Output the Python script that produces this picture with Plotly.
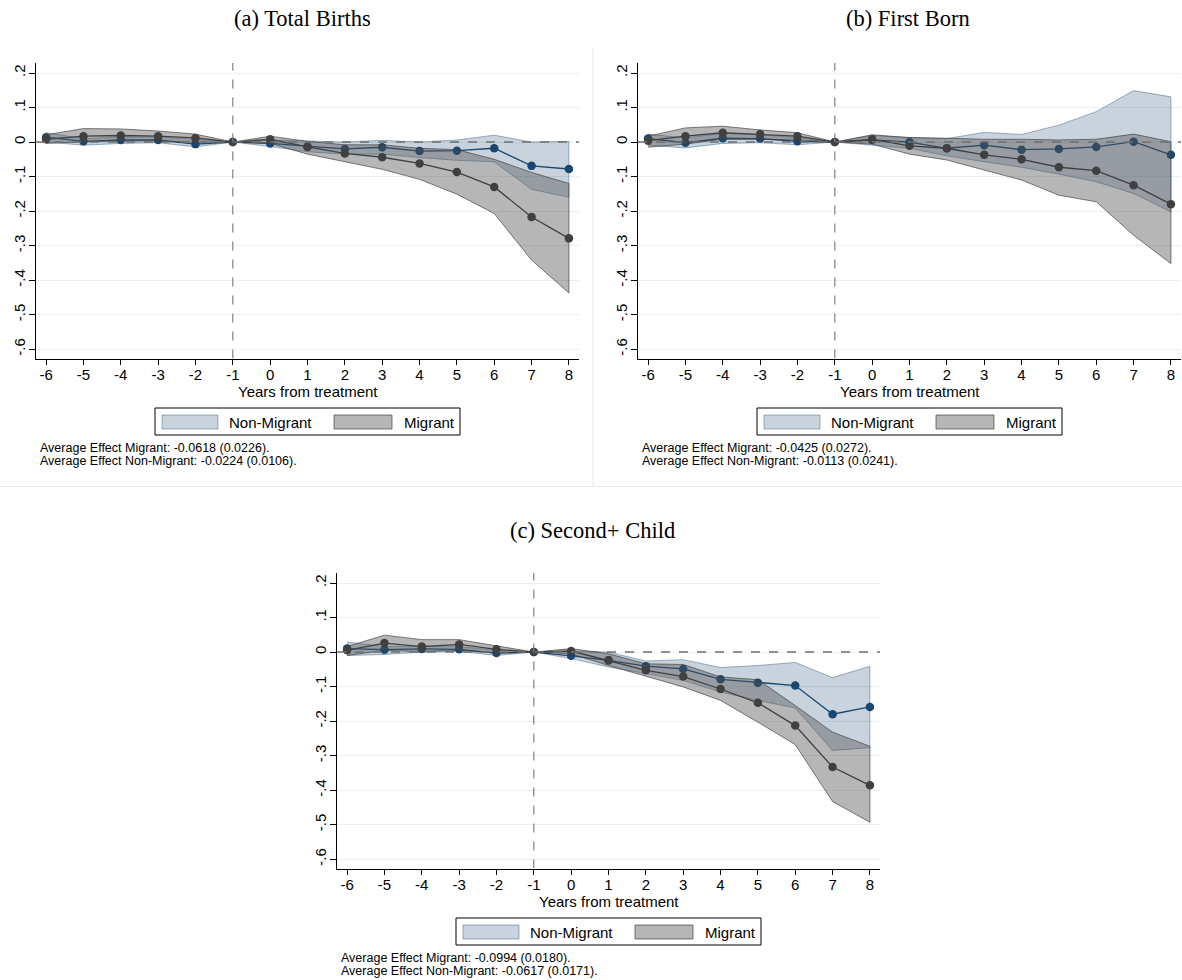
import plotly.graph_objects as go

# ---------------- data ----------------
years = [-6, -5, -4, -3, -2, -1, 0, 1, 2, 3, 4, 5, 6, 7, 8]

mig_a    = [0.008, 0.017, 0.019, 0.017, 0.012, 0, 0.008, -0.014, -0.033, -0.044, -0.062, -0.087, -0.130, -0.217, -0.279]
mig_a_hi = [0.021, 0.039, 0.038, 0.032, 0.023, 0, 0.017, 0.002, -0.008, -0.008, -0.018, -0.022, -0.050, -0.088, -0.120]
mig_a_lo = [-0.004, 0.001, 0.003, 0.003, 0.000, 0, -0.004, -0.035, -0.057, -0.079, -0.108, -0.151, -0.207, -0.342, -0.437]
non_a    = [0.014, 0.002, 0.006, 0.006, -0.006, 0, -0.004, -0.013, -0.020, -0.015, -0.026, -0.025, -0.018, -0.069, -0.078]
non_a_hi = [0.027, 0.010, 0.015, 0.015, 0.008, 0, 0.006, 0.002, 0.000, 0.005, 0.000, 0.006, 0.020, 0.000, 0.002]
non_a_lo = [0.000, -0.009, -0.004, -0.002, -0.014, 0, -0.013, -0.028, -0.035, -0.035, -0.045, -0.053, -0.057, -0.137, -0.160]

mig_b    = [0.004, 0.017, 0.027, 0.023, 0.017, 0, 0.008, -0.011, -0.018, -0.037, -0.050, -0.073, -0.083, -0.125, -0.180]
mig_b_hi = [0.017, 0.041, 0.046, 0.035, 0.027, 0, 0.021, 0.013, 0.011, 0.008, 0.008, 0.006, 0.008, 0.023, 0.001]
mig_b_lo = [-0.015, -0.006, 0.008, 0.008, 0.006, 0, -0.006, -0.035, -0.052, -0.081, -0.110, -0.154, -0.173, -0.270, -0.352]
non_b    = [0.010, -0.002, 0.011, 0.010, 0.002, 0, 0.006, 0.000, -0.018, -0.009, -0.022, -0.020, -0.014, 0.001, -0.037]
non_b_hi = [0.023, 0.012, 0.025, 0.021, 0.013, 0, 0.019, 0.013, 0.010, 0.028, 0.022, 0.049, 0.088, 0.149, 0.131]
non_b_lo = [-0.009, -0.017, -0.004, -0.002, -0.008, 0, -0.010, -0.018, -0.040, -0.057, -0.073, -0.093, -0.115, -0.149, -0.202]

mig_c    = [0.005, 0.026, 0.016, 0.022, 0.008, 0, 0.003, -0.024, -0.053, -0.071, -0.107, -0.147, -0.213, -0.333, -0.386]
mig_c_hi = [0.016, 0.049, 0.036, 0.036, 0.018, 0, 0.010, -0.005, -0.034, -0.036, -0.072, -0.080, -0.155, -0.232, -0.273]
mig_c_lo = [-0.010, 0.005, 0.001, 0.005, -0.003, 0, -0.005, -0.039, -0.070, -0.101, -0.140, -0.203, -0.268, -0.433, -0.493]
non_c    = [0.010, 0.007, 0.009, 0.008, -0.003, 0, -0.011, -0.024, -0.041, -0.049, -0.079, -0.089, -0.097, -0.180, -0.159]
non_c_hi = [0.029, 0.016, 0.018, 0.016, 0.005, 0, 0.003, 0.000, -0.026, -0.022, -0.045, -0.039, -0.030, -0.074, -0.041]
non_c_lo = [-0.010, -0.007, 0.000, 0.002, -0.010, 0, -0.019, -0.043, -0.063, -0.082, -0.116, -0.140, -0.162, -0.285, -0.277]

panel_titles = ["(a) Total Births", "(b) First Born", "(c) Second+ Child"]
footnotes = [
    ["Average Effect Migrant: -0.0618 (0.0226).", "Average Effect Non-Migrant: -0.0224 (0.0106)."],
    ["Average Effect Migrant: -0.0425 (0.0272).", "Average Effect Non-Migrant: -0.0113 (0.0241)."],
    ["Average Effect Migrant: -0.0994 (0.0180).", "Average Effect Non-Migrant: -0.0617 (0.0171)."],
]
legend_labels = ["Non-Migrant", "Migrant"]
x_title = "Years from treatment"
y_tickvals = [0.2, 0.1, 0, -0.1, -0.2, -0.3, -0.4, -0.5, -0.6]
y_ticktext = [".2", ".1", "0", "-.1", "-.2", "-.3", "-.4", "-.5", "-.6"]
x_tickvals = years

# ---------------- styling ----------------
W, H = 1182, 980
SANS = "Liberation Sans, Arial, sans-serif"
SERIF = "Liberation Serif, Times New Roman, serif"
BLUE = "#1a476f"
DARK = "#404040"
NON_FILL = "rgba(26,71,111,0.24)"
NON_EDGE = "rgba(26,71,111,0.40)"
MIG_FILL = "rgba(80,80,80,0.42)"
MIG_EDGE = "rgba(60,60,60,0.65)"
GRID = "#e8f0f1"

def px(x):
    return x / W

def py(y):
    return 1 - y / H

# panel geometry (pixels): left, right, top, bottom of plot area, title center
panels = [
    dict(l=36, r=579, t=63, b=358.5, tx=302, ty=18),
    dict(l=638, r=1181, t=63, b=358.5, tx=908, ty=18),
    dict(l=337, r=880, t=573, b=868.5, tx=592, ty=530),
]
XR = [-6.27, 8.27]
YR = [-0.627, 0.229]

data_sets = [
    (mig_a, mig_a_hi, mig_a_lo, non_a, non_a_hi, non_a_lo),
    (mig_b, mig_b_hi, mig_b_lo, non_b, non_b_hi, non_b_lo),
    (mig_c, mig_c_hi, mig_c_lo, non_c, non_c_hi, non_c_lo),
]

fig = go.Figure()
shapes = []
annotations = []
layout_axes = {}

for i, (p, ds) in enumerate(zip(panels, data_sets)):
    mig, mhi, mlo, non, nhi, nlo = ds
    sfx = "" if i == 0 else str(i + 1)
    xa, ya = "x" + sfx, "y" + sfx

    # non-migrant band
    fig.add_trace(go.Scatter(x=years + years[::-1], y=nhi + nlo[::-1], fill="toself",
                             fillcolor=NON_FILL, line=dict(color=NON_EDGE, width=1),
                             mode="lines", hoverinfo="skip", showlegend=False, xaxis=xa, yaxis=ya))
    fig.add_trace(go.Scatter(x=years, y=non, mode="lines+markers",
                             line=dict(color=BLUE, width=1.3), marker=dict(color=BLUE, size=8.5),
                             showlegend=False, xaxis=xa, yaxis=ya))
    # migrant band
    fig.add_trace(go.Scatter(x=years + years[::-1], y=mhi + mlo[::-1], fill="toself",
                             fillcolor=MIG_FILL, line=dict(color=MIG_EDGE, width=1),
                             mode="lines", hoverinfo="skip", showlegend=False, xaxis=xa, yaxis=ya))
    fig.add_trace(go.Scatter(x=years, y=mig, mode="lines+markers",
                             line=dict(color=DARK, width=1.3), marker=dict(color=DARK, size=8.5),
                             showlegend=False, xaxis=xa, yaxis=ya))

    layout_axes["xaxis" + sfx] = dict(
        domain=[px(p["l"]), px(p["r"])], range=XR, anchor=ya,
        tickvals=x_tickvals, ticktext=[str(v) for v in x_tickvals],
        ticks="outside", ticklen=5, tickcolor="black", tickwidth=1,
        ticklabelstandoff=-3,
        showline=True, linecolor="black", linewidth=1, mirror=False,
        showgrid=False, zeroline=False,
        tickfont=dict(family=SANS, size=15, color="black"))
    layout_axes["yaxis" + sfx] = dict(
        domain=[py(p["b"]), py(p["t"])], range=YR, anchor=xa,
        tickvals=y_tickvals, ticktext=y_ticktext, tickangle=-90,
        ticks="outside", ticklen=6, tickcolor="black", tickwidth=1,
        ticklabelstandoff=-2,
        showline=True, linecolor="black", linewidth=1,
        showgrid=True, gridcolor=GRID, gridwidth=1, zeroline=False,
        tickfont=dict(family=SANS, size=15, color="black"))

    # reference lines
    xref_d = "x" + sfx if sfx else "x"
    yref_d = "y" + sfx if sfx else "y"
    shapes.append(dict(type="line", xref=xref_d, yref=yref_d, x0=-1, x1=-1, y0=YR[0], y1=YR[1],
                       line=dict(color="#808080", width=1.2, dash="dash"), layer="above"))
    shapes.append(dict(type="line", xref=xref_d, yref=yref_d, x0=XR[0], x1=XR[1], y0=0, y1=0,
                       line=dict(color="#707070", width=1.5, dash="dash"), layer="above"))

    # titles
    annotations.append(dict(text=panel_titles[i], xref="paper", yref="paper",
                            x=px(p["tx"]), y=py(p["ty"]), xanchor="center", yanchor="middle",
                            showarrow=False, font=dict(family=SERIF, size=22.5, color="black")))
    # x axis title
    annotations.append(dict(text=x_title, xref=xref_d, yref="paper", x=1, y=py(p["b"] + 32.5),
                            xanchor="center", yanchor="middle", showarrow=False,
                            font=dict(family=SANS, size=15, color="black")))

    # legend (drawn manually)
    dx = p["l"] - 36
    dy = p["b"] - 358.5
    shapes.append(dict(type="rect", xref="paper", yref="paper",
                       x0=px(155 + dx), x1=px(460 + dx), y0=py(435 + dy), y1=py(408 + dy),
                       line=dict(color="black", width=1), fillcolor="white"))
    shapes.append(dict(type="rect", xref="paper", yref="paper",
                       x0=px(162 + dx), x1=px(218 + dx), y0=py(429 + dy), y1=py(415 + dy),
                       line=dict(color=NON_EDGE, width=1), fillcolor=NON_FILL))
    shapes.append(dict(type="rect", xref="paper", yref="paper",
                       x0=px(334 + dx), x1=px(392 + dx), y0=py(429 + dy), y1=py(415 + dy),
                       line=dict(color=MIG_EDGE, width=1), fillcolor=MIG_FILL))
    annotations.append(dict(text=legend_labels[0], xref="paper", yref="paper",
                            x=px(227 + dx), y=py(422 + dy), xanchor="left", yanchor="middle",
                            showarrow=False, font=dict(family=SANS, size=15, color="black")))
    annotations.append(dict(text=legend_labels[1], xref="paper", yref="paper",
                            x=px(402 + dx), y=py(422 + dy), xanchor="left", yanchor="middle",
                            showarrow=False, font=dict(family=SANS, size=15, color="black")))
    # footnotes
    for k, line in enumerate(footnotes[i]):
        annotations.append(dict(text=line, xref="paper", yref="paper",
                                x=px(38 + dx), y=py(448 + 12.7 * k + dy), xanchor="left", yanchor="middle",
                                showarrow=False, font=dict(family=SANS, size=12.5, color="black")))

# faint graph-region borders of the top panels
shapes.append(dict(type="line", xref="paper", yref="paper", x0=0, x1=1, y0=py(486.5), y1=py(486.5),
                   line=dict(color="#e6edf0", width=1)))
shapes.append(dict(type="line", xref="paper", yref="paper", x0=px(593), x1=px(593), y0=py(486.5), y1=py(48),
                   line=dict(color="#e6edf0", width=1)))

fig.update_layout(width=W, height=H, margin=dict(l=0, r=0, t=0, b=0),
                  paper_bgcolor="white", plot_bgcolor="white",
                  shapes=shapes, annotations=annotations, showlegend=False, **layout_axes)

fig.write_html("out.html")
